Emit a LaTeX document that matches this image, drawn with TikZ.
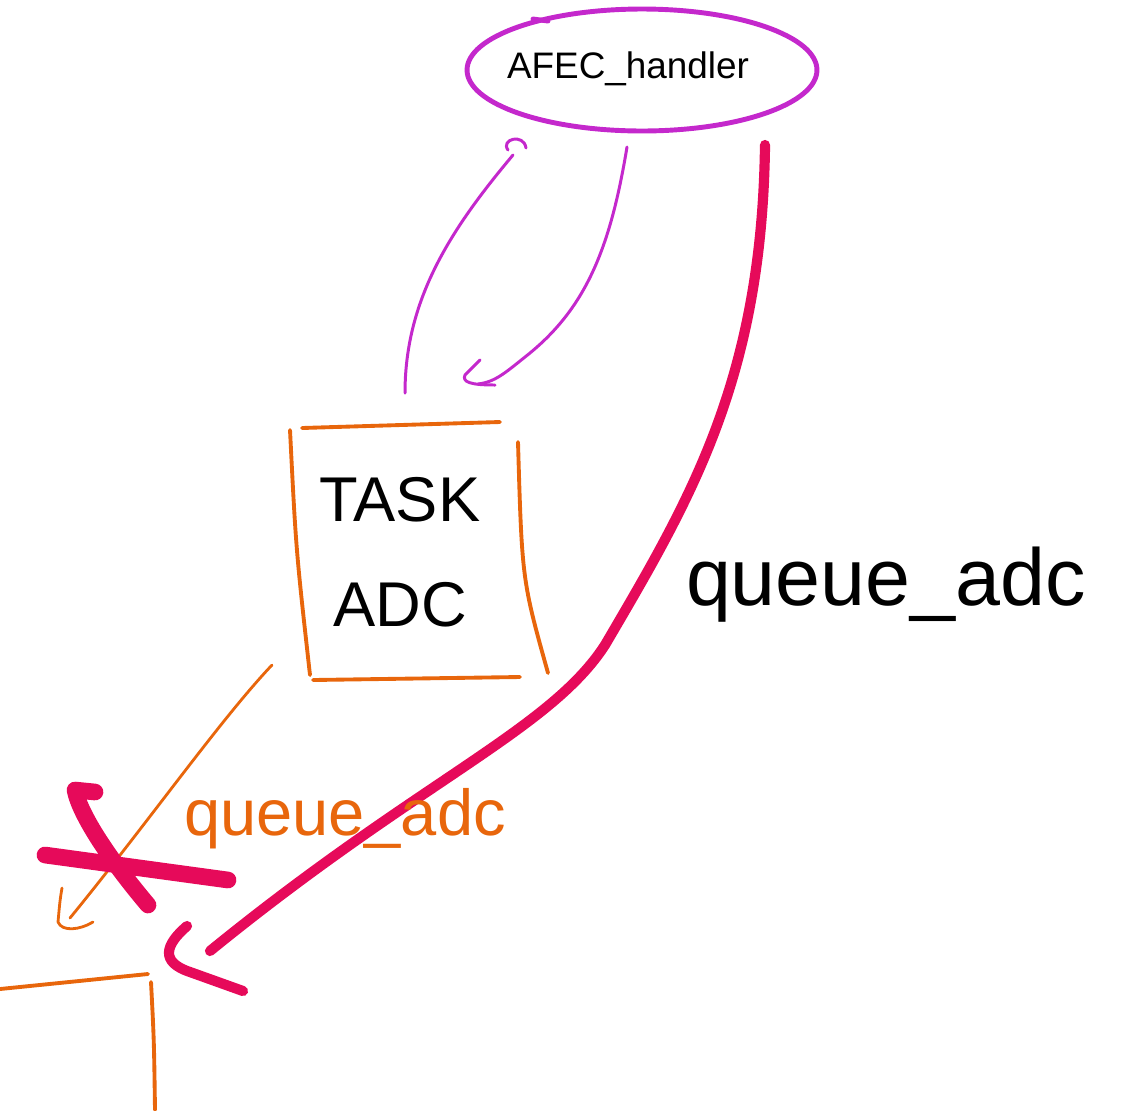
\documentclass[tikz,border=0pt]{standalone}
\usepackage{fontspec}
\setmainfont{Liberation Sans}
\usetikzlibrary{shapes.geometric}
\definecolor{violetpen}{RGB}{196,40,204}
\definecolor{orangepen}{RGB}{232,102,12}
\definecolor{redpen}{RGB}{230,10,90}
\tikzset{
  handlerbox/.style={draw=violetpen, line width=2.8pt, ellipse, minimum width=7cm, minimum height=2.44cm, inner sep=0pt},
  violetline/.style={draw=violetpen, line width=1.7pt, line cap=round, line join=round},
  orangeline/.style={draw=orangepen, line width=2.2pt, line cap=round, line join=round},
  orangethin/.style={draw=orangepen, line width=1.6pt, line cap=round, line join=round},
  redthick/.style={draw=redpen, line width=5.8pt, line cap=round, line join=round},
  redcross/.style={draw=redpen, line width=9.5pt, line cap=round, line join=round},
  handtext/.style={text=black, inner sep=0pt},
}
\begin{document}
\begin{tikzpicture}[x=0.02cm, y=-0.02cm]
\useasboundingbox (0,0) rectangle (1142,1110);

% AFEC handler ellipse
\node[handlerbox] (handler) at (642,70) {};
\draw[violetline, line width=2.8pt] (533,19) -- (548,21);
\node[handtext, anchor=base, font=\fontsize{21}{24}\selectfont] (handlerlabel) at (628,78) {AFEC\_handler};

% Task ADC box
\node[handtext, align=center, font=\fontsize{36}{60}\selectfont] (task) at (400,552) {TASK\\ADC};
\draw[orangeline] (302,428) -- (500,422);
\draw[orangeline] (290,430) .. controls (296,550) .. (310,675);
\draw[orangeline] (313,680) -- (520,677);
\draw[orangeline] (518,442) .. controls (522,580) .. (548,673);

% connectors between task and handler
\coordinate (taskout) at (405,393);
\coordinate (handlerin) at (513,155);
\draw[violetline] (taskout) .. controls (405,300) and (450,230) .. (handlerin);
\draw[violetline] (508,150) .. controls (500,139) and (524,133) .. (526,148);

\coordinate (handlerout) at (627,147);
\coordinate (taskin) at (478,384);
\draw[violetline] (handlerout) .. controls (610,250) and (585,310) .. (525,357) .. controls (505,373) and (495,382) .. (taskin);
\draw[violetline] (480,360) -- (465,375) .. controls (462,382) and (470,385) .. (495,385);

% big red queue connector
\coordinate (redstart) at (765,145);
\coordinate (redend) at (210,951);
\draw[redthick] (redstart) .. controls (762,380) and (690,500) .. (605,645) .. controls (550,730) and (420,780) .. (redend);
\draw[redthick] (187,926) .. controls (165,945) and (160,962) .. (190,972) -- (243,991);
\node[handtext, anchor=base, font=\fontsize{46}{50}\selectfont] (queueblack) at (886,605) {queue\_adc};

% orange crossed-out connector
\coordinate (orangestart) at (272,665);
\coordinate (orangeend) at (70,918);
\draw[orangethin] (orangestart) .. controls (220,720) and (150,820) .. (orangeend);
\draw[orangethin] (62,888) .. controls (60,900) .. (58,922) .. controls (62,932) and (80,930) .. (93,922);
\node[handtext, text=orangepen, anchor=base, font=\fontsize{37}{40}\selectfont] (queueorange) at (345,835) {queue\_adc};

% red cross
\draw[redcross] (95,792) -- (75,790) .. controls (80,815) and (110,860) .. (148,905);
\draw[redcross] (45,855) -- (228,880);

% partial next box
\draw[orangeline] (0,989) -- (148,974);
\draw[orangeline] (151,982) .. controls (154,1040) .. (155,1110);
\end{tikzpicture}
\end{document}
